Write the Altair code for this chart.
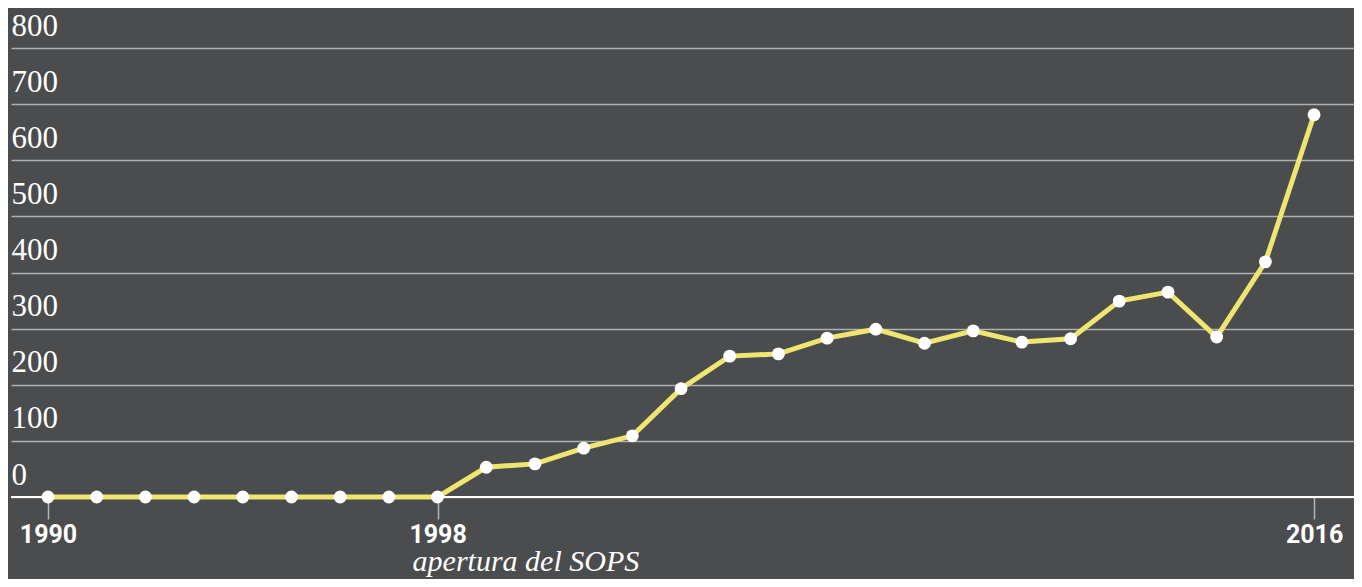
import altair as alt
import pandas as pd

years = list(range(1990, 2017))
values = [0, 0, 0, 0, 0, 0, 0, 0, 0,
          53, 59, 87, 109, 193, 251, 255, 283, 299, 274, 296, 276, 282,
          349, 365, 285, 419, 681]
y_ticks = [0, 100, 200, 300, 400, 500, 600, 700, 800]
x_ticks = [1990, 1998, 2016]
annot_year = [1998]
annot_text = ["apertura del SOPS"]

df = pd.DataFrame({"year": years, "value": values})
ann = pd.DataFrame({"year": annot_year, "value": [0], "label": annot_text})
zero = pd.DataFrame({"value": [0]})

BG = "#4b4c4e"
LINE = "#eee671"

xscale = alt.Scale(domain=[1989.24, 2016.82], nice=False, zero=False)
yscale = alt.Scale(domain=[0, 800], nice=False)

xaxis = alt.Axis(values=x_ticks, format="d", title=None, grid=False, domain=False,
                 ticks=True, tickColor="#b5b5b5", tickSize=22, tickWidth=1.5,
                 labelFont="Roboto", labelFontWeight="bold", labelFontSize=25,
                 labelColor="white", labelPadding=3, labelBaseline="top")
yaxis = alt.Axis(values=y_ticks, title=None, grid=True, gridColor="#b0b0b0",
                 gridWidth=1.5, domain=False, ticks=False, tickSize=0,
                 labelAlign="left", labelPadding=0, labelBaseline="alphabetic",
                 labelOffset=-13, labelFont="Liberation Serif", labelFontSize=31,
                 labelColor="white")

base = alt.Chart(df)

line = base.mark_line(color=LINE, strokeWidth=5).encode(
    x=alt.X("year:Q", scale=xscale, axis=xaxis),
    y=alt.Y("value:Q", scale=yscale, axis=yaxis),
)

zero_rule = alt.Chart(zero).mark_rule(color="white", strokeWidth=2).encode(
    y=alt.Y("value:Q", scale=yscale),
)

points = base.mark_circle(color="white", opacity=1, size=165).encode(
    x=alt.X("year:Q", scale=xscale),
    y=alt.Y("value:Q", scale=yscale),
)

annotation = alt.Chart(ann).mark_text(
    font="Liberation Serif", fontStyle="italic", fontSize=30, color="white",
    align="left", baseline="alphabetic", dx=-25, dy=74,
).encode(
    x=alt.X("year:Q", scale=xscale),
    y=alt.Y("value:Q", scale=yscale),
    text="label:N",
)

chart = alt.layer(zero_rule, line, points, annotation).properties(
    width=1343, height=449,
    background=BG,
    padding={"left": 3, "top": 40, "right": 0, "bottom": 82},
    autosize=alt.AutoSizeParams(type="none"),
).configure_view(stroke=None)

chart.save("out.html", embed_options={"renderer": "svg", "actions": False})
